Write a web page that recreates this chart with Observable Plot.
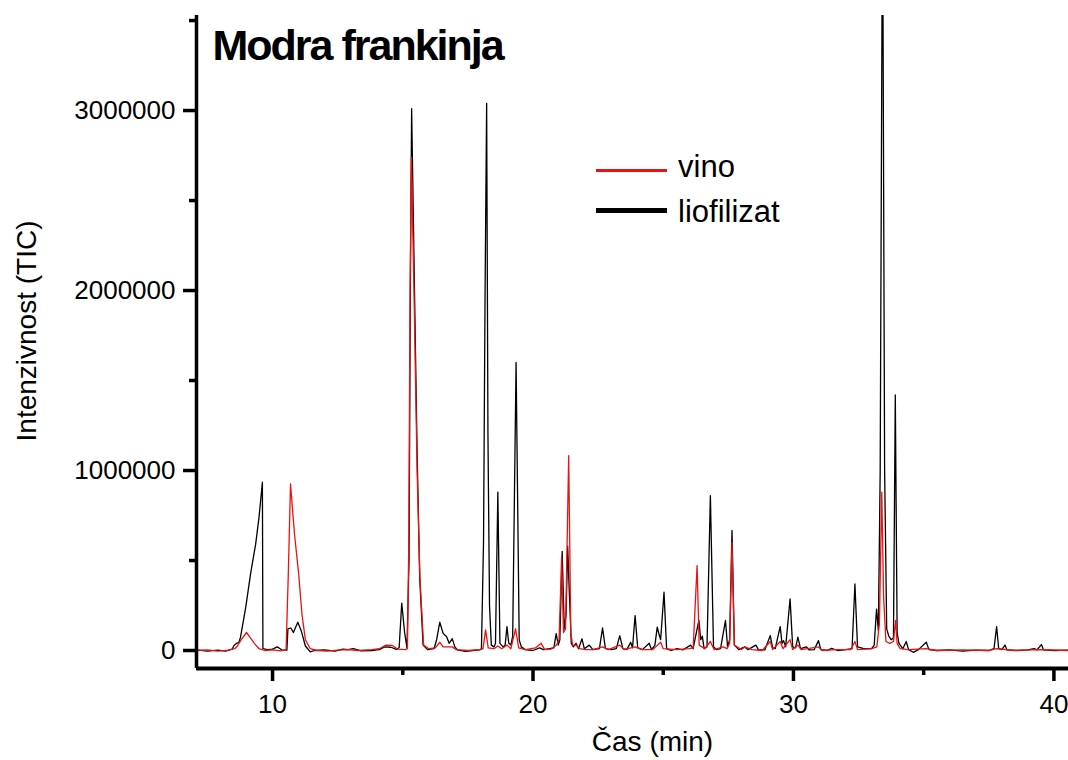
<!DOCTYPE html>
<html>
<head>
<meta charset="utf-8">
<script src="https://cdn.jsdelivr.net/npm/d3@7"></script>
<script src="https://cdn.jsdelivr.net/npm/@observablehq/plot@0.6"></script>
<style>
  body { margin: 0; background: #fff; }
  #wrap { position: relative; width: 1068px; height: 760px; background: #fff; }
  .leg { position: absolute; font-family: "Liberation Sans", Arial, sans-serif; font-size: 31px; line-height: 31px; color: #000; white-space: nowrap; }
  .sw { position: absolute; }
</style>
</head>
<body>
<div id="wrap"></div>
<script>
// ---- data (time in min, intensity TIC) ----
const chartTitle = "Modra frankinja";
const xLabel = "Čas (min)";
const yLabel = "Intenzivnost (TIC)";
const seriesNames = ["vino", "liofilizat"];
const xMajorTicks = [10, 20, 30, 40];
const xMinorTicks = [15, 25, 35];
const yMajorTicks = [0, 1000000, 2000000, 3000000];
const yMinorTicks = [500000, 1500000, 2500000, 3500000];

const liofilizat = [
  [7.08, 3000], [7.5, -4000], [7.9, 2000], [8.2, -3000], [8.45, 8000],
  [8.52, 28000], [8.62, 40000], [8.71, 46000], [8.77, 74000], [8.97, 240000],
  [9.16, 430000], [9.35, 590000], [9.48, 740000], [9.61, 935000], [9.63, 10000],
  [9.8, 5000], [10.0, 8000], [10.18, 20000], [10.35, 4000], [10.55, 2000],
  [10.59, 120000], [10.7, 125000], [10.8, 100000], [10.97, 157000], [11.1, 110000],
  [11.26, 25000], [11.45, -8000], [11.6, 0], [12.0, 3000], [12.4, -4000],
  [12.7, 8000], [12.9, 5000], [13.1, 10000], [13.4, -2000], [13.8, 0],
  [14.1, 5000], [14.3, 20000], [14.55, 18000], [14.75, 6000], [14.86, 15000],
  [14.96, 263000], [15.07, 100000], [15.16, 15000], [15.24, 500000], [15.29, 2000000],
  [15.34, 3010000], [15.45, 2000000], [15.55, 1100000], [15.65, 400000], [15.78, 30000],
  [15.95, 5000], [16.2, 10000], [16.3, 60000], [16.42, 157000], [16.55, 95000],
  [16.62, 85000], [16.68, 78000], [16.78, 40000], [16.9, 66000], [17.0, 20000],
  [17.1, 3000], [17.4, -5000], [17.7, 0], [17.95, 4000], [18.02, 10000],
  [18.1, 600000], [18.16, 2000000], [18.22, 3040000], [18.27, 1200000], [18.33, 250000],
  [18.4, 30000], [18.5, 20000], [18.56, 40000], [18.65, 880000], [18.73, 40000],
  [18.85, 20000], [18.93, 30000], [19.0, 133000], [19.07, 40000], [19.15, 30000],
  [19.22, 80000], [19.35, 1600000], [19.47, 60000], [19.55, 20000], [19.7, 5000],
  [20.0, 0], [20.25, 15000], [20.4, 5000], [20.63, 10000], [20.8, 15000],
  [20.89, 94000], [20.97, 30000], [21.03, 60000], [21.12, 550000], [21.2, 120000],
  [21.27, 200000], [21.33, 580000], [21.4, 300000], [21.47, 40000], [21.55, 20000],
  [21.65, 40000], [21.75, 10000], [21.88, 65000], [21.97, 10000], [22.16, 30000],
  [22.3, 5000], [22.55, 10000], [22.67, 126000], [22.78, 10000], [23.0, 5000],
  [23.2, 10000], [23.33, 83000], [23.45, 10000], [23.6, 5000], [23.75, 45000],
  [23.82, 15000], [23.92, 194000], [24.02, 15000], [24.2, 5000], [24.46, 40000],
  [24.55, 5000], [24.68, 30000], [24.77, 130000], [24.84, 90000], [24.9, 60000],
  [25.03, 324000], [25.13, 10000], [25.3, 0], [25.53, 10000], [25.75, 3000],
  [26.05, 30000], [26.15, 10000], [26.3, 120000], [26.37, 167000], [26.44, 60000],
  [26.5, 80000], [26.57, 10000], [26.68, 20000], [26.81, 861000], [26.93, 20000],
  [27.05, 5000], [27.2, 10000], [27.39, 167000], [27.47, 20000], [27.55, 60000],
  [27.64, 667000], [27.73, 30000], [27.9, 5000], [28.13, 20000], [28.25, 5000],
  [28.56, 30000], [28.65, 5000], [28.9, 3000], [29.11, 83000], [29.2, 15000],
  [29.3, 10000], [29.49, 133000], [29.56, 40000], [29.62, 55000], [29.7, 20000],
  [29.87, 287000], [29.97, 20000], [30.08, 15000], [30.17, 74000], [30.27, 10000],
  [30.5, 20000], [30.6, 3000], [30.8, 5000], [30.96, 55000], [31.05, 5000],
  [31.3, 0], [31.46, 12000], [31.7, 0], [32.0, 5000], [32.25, 10000],
  [32.36, 370000], [32.46, 20000], [32.7, 10000], [33.0, 10000], [33.1, 30000],
  [33.19, 230000], [33.26, 110000], [33.33, 1000000], [33.42, 4300000], [33.5, 1000000],
  [33.58, 120000], [33.66, 80000], [33.75, 60000], [33.84, 70000], [33.91, 1420000],
  [33.98, 100000], [34.05, 40000], [34.2, 10000], [34.33, 50000], [34.42, 5000],
  [34.6, -10000], [34.8, 5000], [35.1, 46000], [35.2, 5000], [35.5, 0],
  [36.0, 3000], [36.5, -3000], [37.0, 2000], [37.5, 0], [37.7, 10000],
  [37.8, 133000], [37.88, 10000], [38.0, 5000], [38.12, 30000], [38.2, 3000],
  [38.6, 0], [39.0, 4000], [39.24, 10000], [39.35, 3000], [39.52, 33000],
  [39.6, 3000], [40.0, 0], [40.56, 2000]
];

const vino = [
  [7.08, 0], [7.5, 3000], [7.9, -3000], [8.3, 2000], [8.55, 10000],
  [8.65, 25000], [8.8, 60000], [9.0, 100000], [9.15, 70000], [9.3, 40000],
  [9.48, 10000], [9.7, 0], [10.0, 3000], [10.3, -2000], [10.52, 5000],
  [10.6, 400000], [10.69, 925000], [10.84, 650000], [11.0, 430000], [11.13, 200000],
  [11.26, 60000], [11.45, 10000], [11.7, 0], [12.1, -3000], [12.5, 2000],
  [12.9, 5000], [13.3, 0], [13.8, 5000], [14.1, 10000], [14.35, 30000],
  [14.6, 28000], [14.8, 8000], [15.1, 5000], [15.18, 10000], [15.23, 600000],
  [15.28, 2000000], [15.33, 2740000], [15.43, 2000000], [15.55, 1000000], [15.66, 400000],
  [15.8, 30000], [16.0, 10000], [16.25, 15000], [16.42, 46000], [16.55, 20000],
  [16.9, 20000], [17.05, 5000], [17.5, 0], [18.0, 5000], [18.08, 10000],
  [18.18, 115000], [18.28, 15000], [18.5, 10000], [18.65, 25000], [18.8, 10000],
  [19.0, 30000], [19.15, 10000], [19.33, 120000], [19.45, 15000], [19.7, 5000],
  [20.1, 15000], [20.31, 40000], [20.45, 5000], [20.7, 8000], [20.9, 30000],
  [21.0, 60000], [21.1, 520000], [21.17, 100000], [21.25, 120000], [21.37, 1083000],
  [21.45, 100000], [21.52, 30000], [21.65, 30000], [21.8, 10000], [22.0, 5000],
  [22.3, 5000], [22.67, 20000], [22.9, 5000], [23.33, 30000], [23.5, 5000],
  [23.92, 20000], [24.2, 5000], [24.6, 5000], [24.9, 46000], [25.0, 10000],
  [25.5, 5000], [26.0, 10000], [26.15, 15000], [26.3, 472000], [26.38, 30000],
  [26.6, 10000], [26.81, 50000], [26.95, 5000], [27.3, 20000], [27.45, 10000],
  [27.55, 40000], [27.64, 600000], [27.73, 30000], [28.0, 5000], [28.13, 20000],
  [28.4, 5000], [28.8, 0], [29.11, 50000], [29.2, 5000], [29.49, 50000],
  [29.6, 10000], [29.87, 60000], [29.97, 5000], [30.17, 30000], [30.3, 5000],
  [30.96, 20000], [31.1, 0], [31.6, 5000], [32.2, 5000], [32.36, 50000],
  [32.46, 5000], [33.0, 10000], [33.2, 20000], [33.3, 150000], [33.39, 880000],
  [33.46, 300000], [33.55, 50000], [33.7, 40000], [33.84, 50000], [33.92, 167000],
  [33.98, 40000], [34.1, 10000], [34.4, 5000], [35.1, 10000], [35.5, 0],
  [36.5, 3000], [37.5, 0], [37.8, 10000], [38.5, 0], [39.5, 5000], [40.56, 0]
];

// ---- styles ----
const RED = "#ee1111";
const BLACK = "#000000";
const xDomain = [7.08, 40.56];
const yDomain = [-100000, 3528000];

const chart = Plot.plot({
  width: 1068,
  height: 760,
  marginLeft: 196,
  marginRight: 0,
  marginTop: 15,
  marginBottom: 92,
  x: { domain: xDomain, axis: null },
  y: { domain: yDomain, axis: null },
  style: { fontFamily: "'Liberation Sans', Arial, sans-serif", fontSize: "26px", background: "#fff", color: "#000", overflow: "visible" },
  marks: [
    Plot.line(liofilizat, { x: d => d[0], y: d => d[1], stroke: BLACK, strokeWidth: 1.3, clip: true }),
    Plot.line(vino, { x: d => d[0], y: d => d[1], stroke: RED, strokeWidth: 1.3, clip: true }),
    Plot.ruleX([xDomain[0]], { stroke: BLACK, strokeWidth: 3.5 }),
    Plot.ruleY([yDomain[0]], { stroke: BLACK, strokeWidth: 4 }),
    Plot.axisY({ ticks: yMajorTicks, tickSize: 13, tickPadding: 8, tickFormat: d3.format("d"), fontSize: 26, strokeWidth: 3.5, label: null }),
    Plot.axisY({ ticks: yMinorTicks, tickSize: 7, tickFormat: () => "", strokeWidth: 3.5, label: null }),
    Plot.axisX({ ticks: xMajorTicks, tickSize: 13, tickPadding: 13, tickFormat: d3.format("d"), fontSize: 26, strokeWidth: 3.5, label: null }),
    Plot.axisX({ ticks: xMinorTicks, tickSize: 7, tickFormat: () => "", strokeWidth: 3.5, label: null }),
    Plot.text([chartTitle], { text: d => d, frameAnchor: "top-left", textAnchor: "start", lineAnchor: "top", dx: 16, dy: 14, fontSize: 43, fontWeight: "bold", fill: BLACK }),
    Plot.text([yLabel], { text: d => d, frameAnchor: "left", textAnchor: "middle", rotate: -90, dx: -169, dy: -11, fontSize: 28, fill: BLACK }),
    Plot.text([xLabel], { text: d => d, frameAnchor: "bottom", textAnchor: "middle", lineAnchor: "bottom", dx: 20, dy: 82, fontSize: 28, fill: BLACK })
  ]
});

d3.select(chart).selectAll("text").filter(function () { return this.textContent === chartTitle; })
  .style("letter-spacing", "-2px");

const wrap = document.getElementById("wrap");
wrap.appendChild(chart);

// legend (inside the plot area, as in the reference)
const legendColors = [RED, BLACK];
const swTop = [168.5, 208];
const swH = [3, 4.5];
const txtTop = [150.5, 195.5];
seriesNames.forEach((name, i) => {
  const sw = document.createElement("div");
  sw.className = "sw";
  sw.style.left = "596px";
  sw.style.top = swTop[i] + "px";
  sw.style.width = "71px";
  sw.style.height = swH[i] + "px";
  sw.style.background = legendColors[i];
  wrap.appendChild(sw);
  const t = document.createElement("div");
  t.className = "leg";
  t.style.left = "678px";
  t.style.top = txtTop[i] + "px";
  t.textContent = name;
  wrap.appendChild(t);
});
</script>
</body>
</html>
